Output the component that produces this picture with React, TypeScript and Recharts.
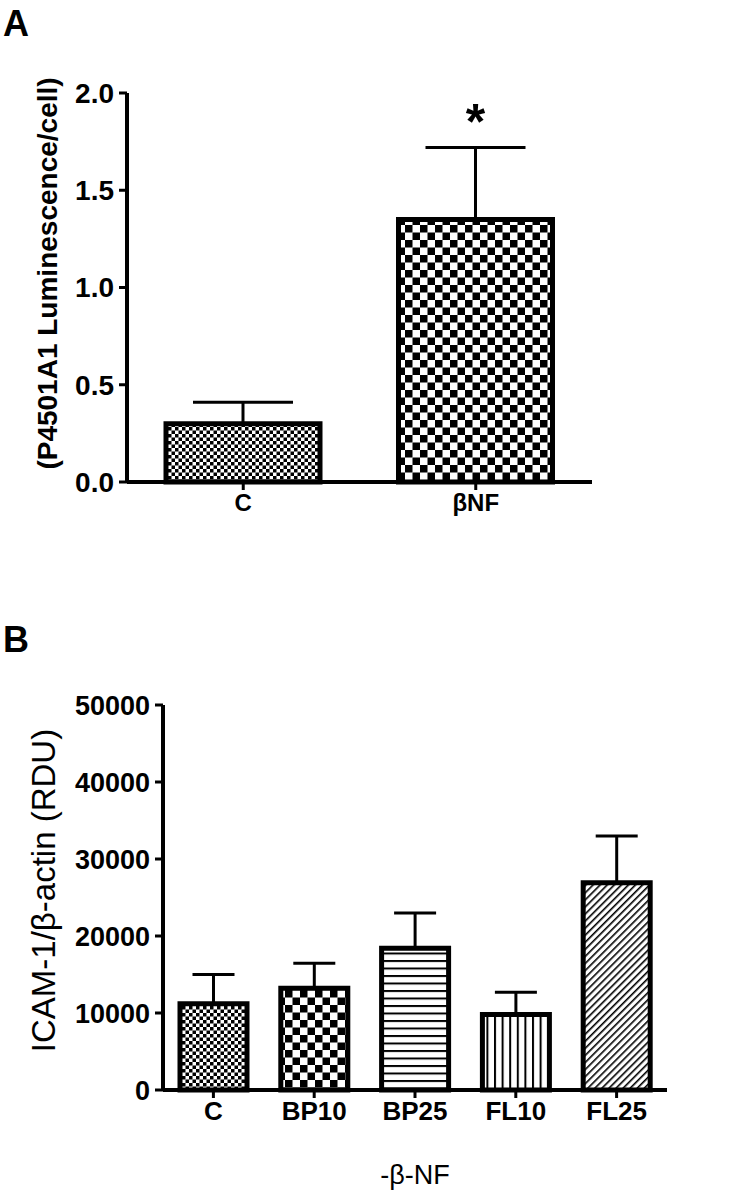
import React from 'react';
import { BarChart, Bar, XAxis, YAxis, ErrorBar, Cell, Label, LabelList } from 'recharts';

const FONT = '"Liberation Sans", Arial, Helvetica, sans-serif';

// panel A
const groupsA = ['C', 'βNF'];
const meansA = [0.3, 1.35];
const errorsA = [0.11, 0.37];
const sigA = ['', '*'];
const fillsA = ['fineCheck', 'bigCheck'];
const ticksA = [0, 0.5, 1, 1.5, 2];

// panel B
const groupsB = ['C', 'BP10', 'BP25', 'FL10', 'FL25'];
const meansB = [11200, 13200, 18400, 9800, 26900];
const errorsB = [3800, 3250, 4600, 2900, 6100];
const fillsB = ['fineCheck', 'bigCheck', 'hLines', 'vLines', 'diagLines'];
const ticksB = [0, 10000, 20000, 30000, 40000, 50000];

const dataA = groupsA.map((g, i) => ({ group: g, mean: meansA[i], err: [0, errorsA[i]], sig: sigA[i] }));
const dataB = groupsB.map((g, i) => ({ group: g, mean: meansB[i], err: [0, errorsB[i]] }));

const axisLine = { stroke: '#000', strokeWidth: 4 };
const tickLine = { stroke: '#000', strokeWidth: 3 };

const Patterns = () => (
  <svg width={0} height={0} style={{ position: 'absolute' }}>
    <defs>
      <pattern id="fineCheck" width={7} height={7} patternUnits="userSpaceOnUse">
        <rect width={7} height={7} fill="#fff" />
        <rect width={3.5} height={3.5} fill="#000" />
        <rect x={3.5} y={3.5} width={3.5} height={3.5} fill="#000" />
      </pattern>
      <pattern id="bigCheck" width={15} height={15} patternUnits="userSpaceOnUse">
        <rect width={15} height={15} fill="#fff" />
        <rect width={7.5} height={7.5} fill="#000" />
        <rect x={7.5} y={7.5} width={7.5} height={7.5} fill="#000" />
      </pattern>
      <pattern id="hLines" width={10} height={7.5} patternUnits="userSpaceOnUse">
        <rect width={10} height={7.5} fill="#fff" />
        <rect y={0} width={10} height={2} fill="#000" />
      </pattern>
      <pattern id="vLines" width={7.6} height={10} patternUnits="userSpaceOnUse">
        <rect width={7.6} height={10} fill="#fff" />
        <rect x={0} width={2} height={10} fill="#000" />
      </pattern>
      <pattern id="diagLines" width={5} height={10} patternUnits="userSpaceOnUse" patternTransform="rotate(45)">
        <rect width={5} height={10} fill="#fff" />
        <rect x={0} width={1.6} height={10} fill="#000" />
      </pattern>
    </defs>
  </svg>
);

const VerticalTitle = ({ viewBox, text, dx, dy, size, weight }: any) => {
  const cx = viewBox.x + dx;
  const cy = viewBox.y + viewBox.height / 2 + dy;
  return (
    <text
      x={cx}
      y={cy}
      transform={`rotate(-90 ${cx} ${cy})`}
      textAnchor="middle"
      dominantBaseline="central"
      fontFamily={FONT}
      fontSize={size}
      fontWeight={weight}
      fill="#000"
    >
      {text}
    </text>
  );
};

const StarLabel = (props: any) => {
  const { x, y, width, height, value, index } = props;
  if (!value) return null;
  const pxPerUnit = height / meansA[index];
  const capY = y - errorsA[index] * pxPerUnit;
  return (
    <text x={x + width / 2} y={capY - 8} textAnchor="middle" fontFamily={FONT} fontSize={50} fontWeight="bold" fill="#000">
      {value}
    </text>
  );
};

export default function App() {
  return (
    <div style={{ position: 'absolute', left: 0, top: 0, width: 750, height: 1197, background: '#fff', fontFamily: FONT }}>
      <Patterns />
      <div style={{ position: 'absolute', left: 3, top: 6, fontSize: 36, fontWeight: 'bold', lineHeight: 1 }}>A</div>
      <div style={{ position: 'absolute', left: 3, top: 622, fontSize: 36, fontWeight: 'bold', lineHeight: 1 }}>B</div>

      <div style={{ position: 'absolute', left: 0, top: 0 }}>
        <BarChart width={750} height={540} data={dataA} margin={{ top: 93, right: 158, bottom: 0, left: 0 }}>
          <XAxis
            dataKey="group"
            height={58}
            axisLine={axisLine}
            tickLine={tickLine}
            tickSize={8}
            tickMargin={4}
            tick={{ fill: '#000', fontSize: 24, fontWeight: 'bold', fontFamily: FONT }}
          />
          <YAxis
            width={127}
            domain={[0, 2]}
            ticks={ticksA}
            tickFormatter={(v: number) => v.toFixed(1)}
            axisLine={axisLine}
            tickLine={tickLine}
            tickSize={8}
            tickMargin={5}
            tick={{ fill: '#000', fontSize: 28, fontWeight: 'bold', fontFamily: FONT }}
          >
            <Label
              content={(p: any) => (
                <VerticalTitle {...p} text="(P4501A1 Luminescence/cell)" dx={47} dy={-14} size={28} weight="bold" />
              )}
            />
          </YAxis>
          <Bar dataKey="mean" barSize={154} stroke="#000" strokeWidth={5} isAnimationActive={false}>
            {dataA.map((d, i) => (
              <Cell key={d.group} fill={`url(#${fillsA[i]})`} />
            ))}
            <ErrorBar dataKey="err" width={50} stroke="#000" strokeWidth={3} direction="y" />
            <LabelList dataKey="sig" content={StarLabel} />
          </Bar>
        </BarChart>
      </div>

      <div style={{ position: 'absolute', left: 0, top: 600 }}>
        <BarChart width={750} height={597} data={dataB} margin={{ top: 105, right: 83, bottom: 7, left: 0 }}>
          <XAxis
            dataKey="group"
            height={100}
            axisLine={axisLine}
            tickLine={tickLine}
            tickSize={8}
            tickMargin={4}
            tick={{ fill: '#000', fontSize: 26, fontWeight: 'bold', fontFamily: FONT }}
          >
            <Label value="-β-NF" position="insideBottom" offset={6} fill="#000" fontSize={27} fontFamily={FONT} />
          </XAxis>
          <YAxis
            width={163}
            domain={[0, 50000]}
            ticks={ticksB}
            axisLine={axisLine}
            tickLine={tickLine}
            tickSize={8}
            tickMargin={5}
            tick={{ fill: '#000', fontSize: 27, fontWeight: 'bold', fontFamily: FONT }}
          >
            <Label
              content={(p: any) => (
                <VerticalTitle {...p} text="ICAM-1/β-actin (RDU)" dx={43} dy={-7} size={33} weight="normal" />
              )}
            />
          </YAxis>
          <Bar dataKey="mean" barSize={67} stroke="#000" strokeWidth={5} isAnimationActive={false}>
            {dataB.map((d, i) => (
              <Cell key={d.group} fill={`url(#${fillsB[i]})`} />
            ))}
            <ErrorBar dataKey="err" width={21} stroke="#000" strokeWidth={3} direction="y" />
          </Bar>
        </BarChart>
      </div>
    </div>
  );
}
